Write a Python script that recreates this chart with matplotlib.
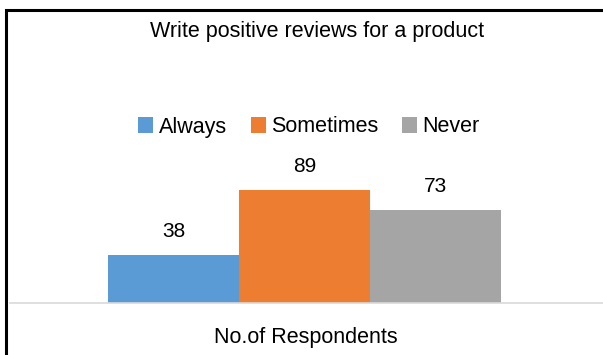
import matplotlib.pyplot as plt
from matplotlib.patches import Rectangle

plt.rcParams['font.family'] = ['Liberation Sans', 'DejaVu Sans']

# respondents per answer
categorias = ['Always', 'Sometimes', 'Never']
valores = [38, 89, 73]
cores = ['#5B9BD5', '#ED7D31', '#A5A5A5']

W, H = 603, 355
fig = plt.figure(figsize=(W / 100, H / 100), dpi=100)

# axes: baseline at y=303 px, top at y=60 px
ax = fig.add_axes([10 / W, 1 - 303 / H, 593 / W, (303 - 60) / H])
largura = 0.221
for i, (cat, v, c) in enumerate(zip(categorias, valores, cores)):
    x = (i - 1) * largura - 0.003
    ax.bar(x, v, width=largura, color=c, label=cat)
    ax.annotate(str(v), (x, v), xytext=(0, 10), textcoords='offset points',
                ha='center', va='bottom', fontsize=15)

ax.set_xlim(-0.5, 0.5)
ax.set_ylim(0, 191)
for s in ['top', 'right', 'left']:
    ax.spines[s].set_visible(False)
ax.spines['bottom'].set_color('#D9D9D9')
ax.spines['bottom'].set_linewidth(1.2)
ax.set_xticks([])
ax.set_yticks([])

fig.text(317 / W, 1 - 31 / H, 'Write positive reviews for a product',
         ha='center', va='center', fontsize=15.5)
fig.text(306 / W, 1 - 338 / H, 'No.of Respondents',
         ha='center', va='center', fontsize=15.5)

fig.legend(loc='center', bbox_to_anchor=(309 / W, 1 - 127 / H), ncol=3,
           frameon=False, fontsize=15.5, handlelength=0.7, handleheight=0.7,
           handletextpad=0.25, columnspacing=1.1)

# outer frame (only left and top edges fall inside the image)
fig.patches.append(Rectangle((6 / W, -0.1), 1.2, 1 - 10 / H + 0.1,
                             transform=fig.transFigure, fill=False,
                             edgecolor='black', linewidth=2.2))

fig.savefig('out.png', dpi=100)
